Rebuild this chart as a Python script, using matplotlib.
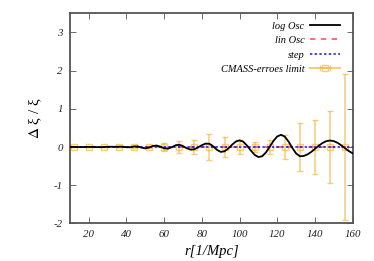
import numpy as np
import matplotlib
matplotlib.use('Agg')
import matplotlib.pyplot as plt

# log oscillation curve, every 2 Mpc
r_curve = list(range(10, 162, 2))
log_osc = [0.0, 0.003, 0.0, -0.003, 0.0, 0.004, 0.002, -0.003, -0.004, 0.0,
           0.005, 0.006, 0.005, 0.009, 0.008, -0.006, -0.006, 0.015, 0.015, -0.016,
           -0.035, -0.013, 0.027, 0.039, 0.009, -0.033, -0.043, -0.006, 0.045, 0.058,
           0.023, -0.033, -0.068, -0.058, -0.010, 0.049, 0.089, 0.085, 0.017, -0.074,
           -0.128, -0.112, -0.039, 0.060, 0.143, 0.175, 0.137, 0.035, -0.094, -0.206,
           -0.263, -0.241, -0.141, 0.008, 0.162, 0.277, 0.320, 0.271, 0.141, -0.025,
           -0.170, -0.242, -0.235, -0.195, -0.129, -0.048, 0.035, 0.105, 0.153, 0.170,
           0.154, 0.109, 0.042, -0.034, -0.108, -0.165]
lin_osc = [0.0] * len(r_curve)
step = [0.0] * len(r_curve)

# CMASS error limits
r_err = [12, 20, 28, 36, 44, 52, 60, 68, 76, 84, 92, 100, 108, 116, 124, 132, 140, 148, 156]
err_val = [0.0] * len(r_err)
err = [0.01, 0.01, 0.01, 0.01, 0.02, 0.03, 0.11, 0.15, 0.19, 0.35, 0.25, 0.18,
       0.13, 0.19, 0.31, 0.64, 0.70, 0.93, 1.90]

plt.rcParams['font.family'] = ['Liberation Serif', 'DejaVu Serif']
plt.rcParams['mathtext.fontset'] = 'stix'
plt.rcParams['axes.unicode_minus'] = False

err_color = '#f5b840'

fig = plt.figure(figsize=(3.74, 2.61), dpi=100)
ax = fig.add_axes([0.187, 0.144, 0.756, 0.805])

ax.plot(r_curve, log_osc, '-', color='black', lw=1.3, label='log Osc', zorder=4)
ax.plot(r_curve, lin_osc, '--', color='#ff4a4a', lw=1.3, dashes=(3, 3), alpha=0.85,
        label='lin Osc', zorder=3)
ax.plot(r_curve, step, ':', color='#1010ff', lw=1.3, dashes=(1.3, 1.3), alpha=0.85,
        label='step', zorder=3)
ax.errorbar(r_err, err_val, yerr=err, fmt='s', color=err_color, alpha=0.7,
            mfc='none', ms=4, mew=1.0, elinewidth=1.1, capsize=2, zorder=2)
# legend proxy drawn horizontally, like the key in the original
ax.errorbar([np.nan], [np.nan], xerr=[1.0], fmt='-s', color=err_color, alpha=0.7,
            mfc='none', ms=4, mew=1.0, elinewidth=1.1, capsize=2,
            label='CMASS-erroes limit')

ax.set_xlim(10, 160)
ax.set_ylim(-2, 3.5)
ax.set_xticks(range(20, 161, 20))
ax.set_yticks(range(-2, 4))
ax.tick_params(direction='in', length=4, width=0.6, top=True, right=True,
               labelsize=7.8, colors='#555555', labelcolor='#222222', pad=5)
for lab in ax.get_xticklabels() + ax.get_yticklabels():
    lab.set_fontstyle('italic')
for s in ax.spines.values():
    s.set_color('#555555')
    s.set_linewidth(1.3)

ax.set_xlabel('r[1/Mpc]', fontsize=10.5, fontstyle='italic', labelpad=4)
ax.set_ylabel(r'$\Delta$ ξ / ξ', fontsize=11, labelpad=7)

leg = ax.legend(loc='upper right', bbox_to_anchor=(0.955, 0.962), frameon=False,
                markerfirst=False, fontsize=7.5, handlelength=2.9, labelspacing=0.5,
                borderaxespad=0.0, borderpad=0.0, handletextpad=0.5)
for t in leg.get_texts():
    t.set_fontstyle('italic')

fig.savefig('out.png', dpi=100)
